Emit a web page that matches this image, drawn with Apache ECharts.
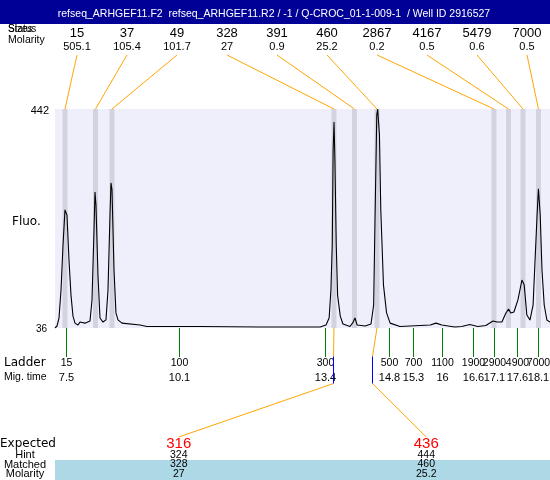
<!DOCTYPE html>
<html><head><meta charset="utf-8">
<script src="https://cdn.jsdelivr.net/npm/echarts@6/dist/echarts.min.js"></script>
<style>html,body{margin:0;padding:0;background:#fff}#c{width:550px;height:480px}</style>
</head><body><div id="c"></div>
<script>
const headerTitle = 'refseq_ARHGEF11.F2  refseq_ARHGEF11.R2 / -1 / Q-CROC_01-1-009-1  / Well ID 2916527';
const peakTimes = [7.478, 8.163, 8.534, 13.519, 13.979, 14.485, 17.112, 17.438, 17.763, 18.111];
const peakSizes = ['15','37','49','328','391','460','2867','4167','5479','7000'];
const peakMolarity = ['505.1','105.4','101.7','27','0.9','25.2','0.2','0.5','0.6','0.5'];
const ladderTimes = [7.50, 10.04, 13.32, 14.75, 15.29, 15.94, 16.64, 17.11, 17.63, 18.10];
const ladderSizes = ['15','100','300','500','700','1100','1900','2900','4900','7000'];
const ladderMigLabels = ['7.5','10.1','13.4','14.8','15.3','16','16.6','17.1','17.6','18.1'];
const traceTime = [7.254,7.299,7.344,7.389,7.434,7.478,7.501,7.523,7.568,7.613,
  7.658,7.703,7.770,7.815,7.927,8.040,8.085,8.130,8.152,8.174,
  8.219,8.264,8.332,8.399,8.444,8.489,8.511,8.534,8.579,8.623,
  8.668,8.758,9.162,9.320,10.51,11.86,13.21,13.34,13.41,13.45,
  13.48,13.50,13.52,13.54,13.57,13.60,13.66,13.72,13.88,13.95,
  13.99,14.04,14.22,14.35,14.41,14.44,14.48,14.50,14.54,14.57,
  14.63,14.70,14.78,15.00,15.68,15.81,15.94,16.23,16.39,16.57,
  16.75,16.93,17.09,17.18,17.29,17.38,17.44,17.49,17.56,17.65,
  17.74,17.79,17.85,17.92,17.99,18.03,18.08,18.11,18.15,18.19,
  18.24,18.30,18.37];
const traceFluo = [36,39.7,54.5,106,190,255,258.5,245.5,162,97,
  58,45,41.6,47,45,49,88,218,288,264,
  134,54.5,47,51,106,245.5,305,292,143.5,64,
  51,45,41.6,38.8,38.8,37.9,37.9,41.6,54.5,106,
  190,366,418,347,190,97,58,43.4,38.8,47,
  54.5,41.6,39.7,43.4,78.6,236,431,442,394,255,
  116,64,45,38.8,41.6,45,41.6,37.9,38.8,42.5,
  38.8,40.6,49,47,47,63.8,71,63.8,65.7,88,
  125,116,60,50.8,78.6,153,245.5,294,245.5,143.5,
  78.6,50.8,47];
const expectedSizes = ['316','436'];
const expectedTimes = [13.503, 14.366];
const hintSizes = ['324','444'];
const matchedSizes = ['328','460'];
const matchedMolarity = ['27','25.2'];
const matchedPeakIndex = [3, 5];
const fluoMin = 36, fluoMax = 442;

const FONT = '"Liberation Sans", Arial, sans-serif';
const WFONT = '"DejaVu Sans", sans-serif';
const chart = echarts.init(document.getElementById('c'));
chart.setOption({
  animation: false,
  grid: {left: 55, right: 0, top: 109, bottom: 152, show: true, backgroundColor: '#efeffc', borderWidth: 0},
  xAxis: {type: 'value', min: 7.254, max: 18.37, show: false},
  yAxis: {type: 'value', min: fluoMin, max: fluoMax, show: false},
  series: [
    {type: 'custom', silent: true, z: 1,
      data: peakTimes.map(t => [t, fluoMin]),
      encode: {x: 0, y: 1},
      renderItem: (params, api) => {
        const x = api.coord([api.value(0), fluoMin])[0];
        const cs = params.coordSys;
        return {type: 'rect', shape: {x: x - 2.5, y: cs.y, width: 5, height: cs.height}, style: {fill: '#d3d3e0'}};
      }},
    {type: 'line', z: 3, showSymbol: false, silent: true,
      data: traceTime.map((t, i) => [t, traceFluo[i]]),
      lineStyle: {color: '#000', width: 1.1}}
  ]
});

const px = (t, v) => chart.convertToPixel({gridIndex: 0}, [t, v]);
const topY = px(7.5, fluoMax)[1], botY = px(7.5, fluoMin)[1];
const g = [];
const txt = (s, x, y, font, opts) => g.push(Object.assign({type: 'text', x: x, y: y, z: 20,
  style: Object.assign({text: s, font: font, fill: '#000', align: 'center', verticalAlign: 'middle'}, opts || {})}));
const ln = (x1, y1, x2, y2, stroke, z, w) => g.push({type: 'line', z: z || 15, shape: {x1, y1, x2, y2}, style: {stroke: stroke, lineWidth: w || 1}});

// header
txt('Sizes', 8, 29, '10px ' + FONT, {align: 'left'});
txt('Status', 8, 29, '10px ' + FONT, {align: 'left'});
g.push({type: 'rect', z: 30, shape: {x: 0, y: 0, width: 550, height: 24}, style: {fill: '#000096'}});
g.push({type: 'text', x: 274, y: 14, z: 31, style: {text: headerTitle, font: '10.5px ' + FONT, fill: '#fff', align: 'center', verticalAlign: 'middle'}});
txt('Molarity', 8, 40.5, '10.5px ' + FONT, {align: 'left'});

// top peak labels and connectors
peakTimes.forEach((t, i) => {
  const lx = 77 + 50 * i;
  txt(peakSizes[i], lx, 33.5, '13px ' + FONT);
  txt(peakMolarity[i], lx, 47, '11px ' + FONT);
  ln(lx, 55, px(t, fluoMax)[0], topY, '#ffa500');
});

// y labels
txt(String(fluoMax), 49, topY + 1.5, '11px ' + FONT, {align: 'right'});
txt(String(fluoMin), 47, botY + 1, '10px ' + FONT, {align: 'right'});
txt('Fluo.', 12, 222, '12px ' + WFONT, {align: 'left'});

// ladder
ladderTimes.forEach((t, i) => {
  const x = Math.round(px(t, fluoMin)[0]) + 0.5;
  ln(x, botY, x, 357, '#008000');
  txt(ladderSizes[i], x, 363, '10.5px ' + FONT);
  txt(ladderMigLabels[i], x, 377.5, '11px ' + FONT);
});
txt('Ladder', 4, 363, '12px ' + WFONT, {align: 'left'});
txt('Mig. time', 4, 377.5, '10.5px ' + FONT, {align: 'left'});

// expected / matched
g.push({type: 'rect', z: 10, shape: {x: 55, y: 460, width: 495, height: 20}, style: {fill: '#add8e6'}});
txt('Expected', 0, 443.5, '12px ' + WFONT, {align: 'left'});
txt('Hint', 25, 455, '11px ' + FONT);
txt('Matched', 25, 464.5, '11px ' + FONT);
txt('Molarity', 25, 474, '11px ' + FONT);
expectedSizes.forEach((s, j) => {
  const cx = 55 + 495 * (2 * j + 1) / 4;
  const pk = px(peakTimes[matchedPeakIndex[j]], fluoMin)[0];
  const ex = Math.round(px(expectedTimes[j], fluoMin)[0]) + 0.5;
  ln(pk, botY, ex, 356.5, '#ffa500');
  ln(ex, 383.5, cx, 437, '#ffa500');
  ln(ex, 356.5, ex, 383.5, '#0000ff', 25, 1);
  txt(s, cx, 444, '15px ' + FONT, {fill: '#ff0000'});
  txt(hintSizes[j], cx, 455, '10.5px ' + FONT);
  txt(matchedSizes[j], cx, 464.5, '10.5px ' + FONT);
  txt(matchedMolarity[j], cx, 474, '10.5px ' + FONT);
});

chart.setOption({graphic: {elements: g}});
</script>
</body></html>
